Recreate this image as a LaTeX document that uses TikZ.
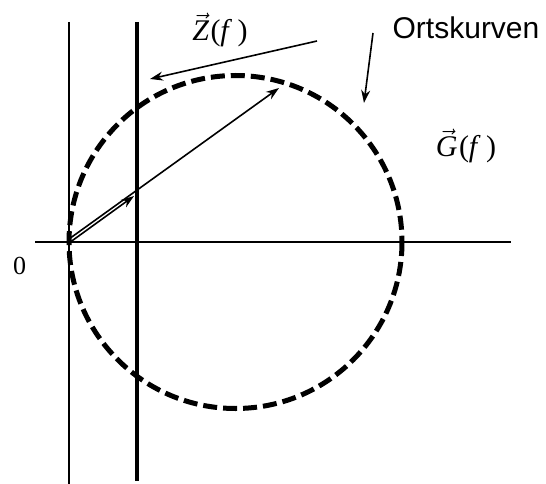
\RequirePackage{fix-cm}
\documentclass[tikz,border=0pt]{standalone}
\usepackage{fontspec}
\setmainfont{Liberation Serif}
\newfontfamily\arialfont{Liberation Sans}
\usetikzlibrary{arrows.meta}
\begin{document}
\begin{tikzpicture}[x=1pt,y=-1pt,
  thinline/.style={line width=1.8pt},
  thickline/.style={line width=4.8pt},
  ortsline/.style={line width=5pt,dash pattern=on 14pt off 6pt},
  ptr/.style={line width=1.6pt,-{Stealth[length=13pt,width=9pt]}},
  lbl/.style={inner sep=0pt}]
\useasboundingbox (0,0) rectangle (546,484);
% axes
\coordinate (xl) at (35,242);
\coordinate (xr) at (511,242);
\coordinate (yt) at (69,22);
\coordinate (yb) at (69,484);
\coordinate (zt) at (137,22);
\coordinate (zb) at (137,481);
\coordinate (O) at (69,242);
\coordinate (C) at (235.5,242);
\draw[thinline] (xl) -- (xr);
\draw[thinline] (yt) -- (yb);
\draw[thickline] (zt) -- (zb);
% circle
\draw[ortsline] (C) circle[radius=166.5];
% pointers
\coordinate (o1) at (69,239);
\coordinate (g1) at (279,88);
\coordinate (o2) at (69,243);
\coordinate (z1) at (134,196);
\draw[ptr] (o1) -- (g1);
\draw[ptr] (o2) -- (z1);
% labels
\node[lbl] (zl) at (220,30) {\fontsize{30}{34}\selectfont$\vec{\mbox{\itshape Z}}$\hspace{0.05em}(\textit{f}\hspace{0.18em})};
\node[lbl] (gl) at (466,146) {\fontsize{30}{34}\selectfont$\vec{\mbox{\itshape G}}$\hspace{0.05em}(\textit{f}\hspace{0.18em})};
\node[lbl] (ol) at (466,28) {\fontsize{30}{34}\selectfont\arialfont Ortskurven};
\node[lbl] (zero) at (19.5,266) {\fontsize{26}{30}\selectfont 0};
\coordinate (za) at (317,41);
\coordinate (zh) at (150,79);
\coordinate (oa) at (373,33);
\coordinate (oh) at (364,103);
\draw[ptr] (za) -- (zh);
\draw[ptr] (oa) -- (oh);
\end{tikzpicture}
\end{document}
